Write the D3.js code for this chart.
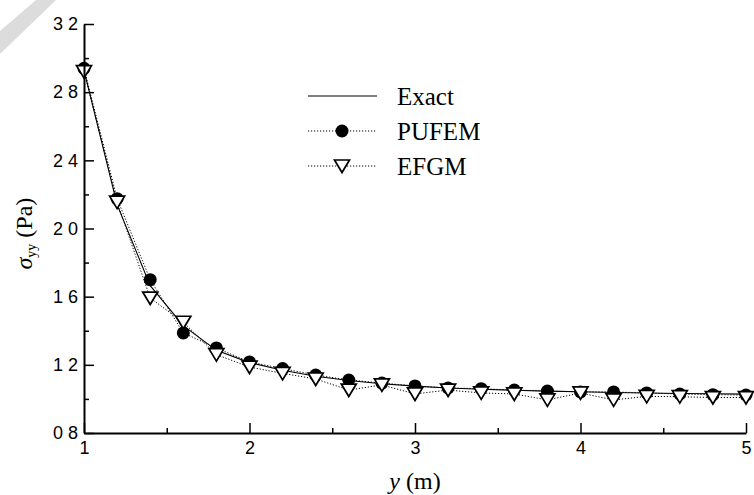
<!DOCTYPE html>
<html>
<head>
<meta charset="utf-8">
<script src="https://cdn.jsdelivr.net/npm/d3@7"></script>
<style>
  html, body { margin: 0; padding: 0; background: #fff; }
  svg { display: block; }
</style>
</head>
<body>
<div id="wrapper"></div>
<script>
// y positions (m)
const yPos = [1.0, 1.2, 1.4, 1.6, 1.8, 2.0, 2.2, 2.4, 2.6, 2.8, 3.0, 3.2, 3.4, 3.6, 3.8, 4.0, 4.2, 4.4, 4.6, 4.8, 5.0]
const exactValues = [2.93, 2.14, 1.665, 1.43, 1.285, 1.213, 1.168, 1.133, 1.108, 1.089, 1.075, 1.064, 1.057, 1.051, 1.046, 1.042, 1.038, 1.035, 1.032, 1.030, 1.028]
const pufemValues = [2.94, 2.175, 1.70, 1.387, 1.299, 1.217, 1.178, 1.14, 1.111, 1.093, 1.076, 1.064, 1.060, 1.052, 1.046, 1.041, 1.041, 1.035, 1.029, 1.025, 1.023]
const efgmValues = [2.92, 2.155, 1.592, 1.45, 1.26, 1.187, 1.15, 1.117, 1.052, 1.082, 1.029, 1.052, 1.035, 1.029, 0.994, 1.035, 0.994, 1.015, 1.013, 1.008, 1.008]

const xTicks = [1, 2, 3, 4, 5]
const xMinorTicks = [1.5, 2.5, 3.5, 4.5]
const yTicks = [0.8, 1.2, 1.6, 2.0, 2.4, 2.8, 3.2]
const yTickLabels = ["0 8", "1 2", "1 6", "2 0", "2 4", "2 8", "3 2"]
const yMinorTicks = [1.0, 1.4, 1.8, 2.2, 2.6, 3.0]
const legendNames = ["Exact", "PUFEM", "EFGM"]

const dims = {
  width: 754,
  height: 495,
  margin: { top: 24, right: 8, bottom: 62, left: 84 }
}
dims.boundedWidth = dims.width - dims.margin.left - dims.margin.right
dims.boundedHeight = dims.height - dims.margin.top - dims.margin.bottom

const sansFont = "'Liberation Sans', Arial, sans-serif"
const serifFont = "'Liberation Serif', 'Times New Roman', serif"

const wrapper = d3.select("#wrapper")
  .append("svg")
    .attr("width", dims.width)
    .attr("height", dims.height)

// faint watermark stripe in the corner
wrapper.append("path")
  .attr("d", "M0,31 L36,0 L56,0 L0,54 Z")
  .attr("fill", "#dcdcdc")

const bounds = wrapper.append("g")
  .attr("transform", `translate(${dims.margin.left},${dims.margin.top})`)

const xScale = d3.scaleLinear()
  .domain([1, 5])
  .range([0, dims.boundedWidth])

const yScale = d3.scaleLinear()
  .domain([0.8, 3.2])
  .range([dims.boundedHeight, 0])

// lines
const lineOf = vals => d3.line()
  .x((d, i) => xScale(yPos[i]))
  .y(d => yScale(d))(vals)

bounds.append("path")
  .attr("d", lineOf(exactValues))
  .attr("fill", "none")
  .attr("stroke", "#000")
  .attr("stroke-width", 1.1)

bounds.append("path")
  .attr("d", lineOf(pufemValues))
  .attr("fill", "none")
  .attr("stroke", "#000")
  .attr("stroke-width", 1)
  .attr("stroke-dasharray", "1.2,1.8")

bounds.append("path")
  .attr("d", lineOf(efgmValues))
  .attr("fill", "none")
  .attr("stroke", "#000")
  .attr("stroke-width", 1)
  .attr("stroke-dasharray", "1.2,1.8")

// markers
const triPath = "M-7.5,-6 L7.5,-6 L0,6.5 Z"

bounds.selectAll(".pufem")
  .data(pufemValues)
  .enter().append("circle")
    .attr("class", "pufem")
    .attr("cx", (d, i) => xScale(yPos[i]))
    .attr("cy", d => yScale(d))
    .attr("r", 6.5)
    .attr("fill", "#000")

bounds.selectAll(".efgm")
  .data(efgmValues)
  .enter().append("path")
    .attr("class", "efgm")
    .attr("d", triPath)
    .attr("transform", (d, i) => `translate(${xScale(yPos[i])},${yScale(d)})`)
    .attr("fill", "#fff")
    .attr("stroke", "#000")
    .attr("stroke-width", 1.7)

// axes
const xAxis = bounds.append("g")
  .attr("transform", `translate(0,${dims.boundedHeight})`)
  .call(d3.axisBottom(xScale)
    .tickValues(xTicks)
    .tickFormat(d3.format("d"))
    .tickSizeInner(-10)
    .tickSizeOuter(0)
    .tickPadding(8))

xAxis.append("g")
  .call(d3.axisBottom(xScale)
    .tickValues(xMinorTicks)
    .tickFormat("")
    .tickSizeInner(-5)
    .tickSizeOuter(0))
  .select(".domain").remove()

const yAxis = bounds.append("g")
  .call(d3.axisLeft(yScale)
    .tickValues(yTicks)
    .tickFormat((d, i) => yTickLabels[i])
    .tickSizeInner(-10)
    .tickSizeOuter(0)
    .tickPadding(6))

yAxis.append("g")
  .call(d3.axisLeft(yScale)
    .tickValues(yMinorTicks)
    .tickFormat("")
    .tickSizeInner(-5)
    .tickSizeOuter(0))
  .select(".domain").remove()

bounds.selectAll(".domain")
  .attr("stroke", "#000")
  .attr("stroke-width", 2)
bounds.selectAll(".tick line")
  .attr("stroke", "#000")
  .attr("stroke-width", 1.5)
bounds.selectAll(".tick text")
  .attr("fill", "#000")
  .style("font-family", sansFont)
  .style("font-size", "18px")

// axis labels
const xLabel = bounds.append("text")
  .attr("x", xScale(3))
  .attr("y", dims.boundedHeight + 56)
  .attr("text-anchor", "middle")
  .style("font-family", serifFont)
  .style("font-size", "24px")
xLabel.append("tspan").style("font-style", "italic").text("y")
xLabel.append("tspan").text(" (m)")

const yLabel = bounds.append("text")
  .attr("transform", `translate(${-dims.margin.left + 32},${yScale(1.97)}) rotate(-90)`)
  .attr("text-anchor", "middle")
  .style("font-family", serifFont)
  .style("font-size", "24px")
yLabel.append("tspan").style("font-style", "italic").text("σ")
yLabel.append("tspan").attr("dy", 4).style("font-size", "14px").text("yy")
yLabel.append("tspan").attr("dy", -4).text(" (Pa)")

// legend
const legend = wrapper.append("g")
  .attr("transform", "translate(308,96)")

const rows = legend.selectAll("g")
  .data(legendNames)
  .enter().append("g")
    .attr("transform", (d, i) => `translate(0,${i * 35})`)

rows.append("line")
  .attr("x1", 0)
  .attr("x2", 69)
  .attr("stroke", "#000")
  .attr("stroke-width", (d, i) => i === 0 ? 1.1 : 1)
  .attr("stroke-dasharray", (d, i) => i === 0 ? null : "1.2,1.8")

rows.filter((d, i) => i === 1).append("circle")
  .attr("cx", 34)
  .attr("r", 6.5)
  .attr("fill", "#000")

rows.filter((d, i) => i === 2).append("path")
  .attr("d", triPath)
  .attr("transform", "translate(34,0)")
  .attr("fill", "#fff")
  .attr("stroke", "#000")
  .attr("stroke-width", 1.7)

rows.append("text")
  .attr("x", 89)
  .attr("dy", "0.35em")
  .style("font-family", serifFont)
  .style("font-size", "25px")
  .text(d => d)
</script>
</body>
</html>
